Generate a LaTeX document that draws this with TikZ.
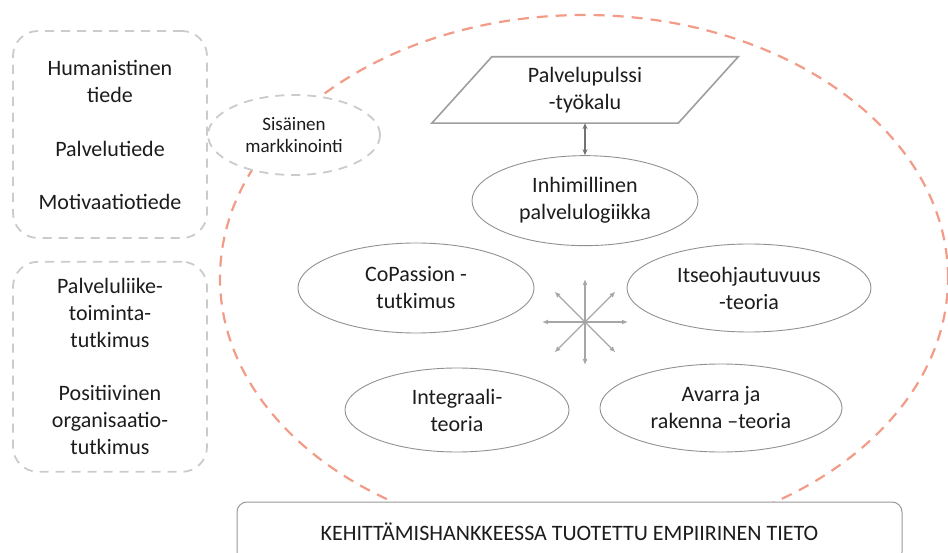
\documentclass[tikz,border=0pt]{standalone}
\usepackage{fontspec}
\setmainfont{Carlito}
\usepackage{tikz}
\usetikzlibrary{positioning,arrows.meta,calc,shapes.geometric}
\definecolor{salmon}{RGB}{242,155,135}
\definecolor{dashgray}{RGB}{203,203,203}
\definecolor{linegray}{RGB}{145,145,145}
\definecolor{txt}{RGB}{28,28,28}

\begin{document}
\begin{tikzpicture}[
    x=1pt, y=-1pt, >=Stealth, text=txt,
    font=\fontsize{22pt}{27pt}\selectfont,
    field/.style={draw=dashgray, line width=1.8pt, dash pattern=on 9pt off 7pt, rounded corners=25pt,
      align=center, inner sep=0pt, minimum width=194pt},
    teoria/.style={ellipse, draw=linegray, line width=0.9pt, align=center, inner sep=0pt},
    orbit/.style={draw=salmon, line width=2.2pt, dash pattern=on 11pt off 8pt},
    ray/.style={draw=black!35, line width=1.2pt, -{Latex[length=6pt,width=5pt]}}]
  \useasboundingbox (0,0) rectangle (948,553);
  \draw[orbit] (584,278) ellipse [x radius=364pt, y radius=263pt];
  \node[field, minimum height=207pt] (l1) at (110,134.5) {Humanistinen\\tiede\\[27pt]Palvelutiede\\[26pt]Motivaatiotiede};
  \node[field, minimum height=210pt, below=22pt of l1] (l2) {Palveluliike-\\toiminta-\\tutkimus\\[26pt]Positiivinen\\organisaatio-\\tutkimus};
  \node[ellipse, draw=dashgray, fill=white, line width=1.8pt, dash pattern=on 9pt off 7pt, align=center,
    inner sep=0pt, minimum width=172pt, minimum height=80pt, font=\fontsize{19pt}{22pt}\selectfont] (sm) at (294,135) {Sisäinen\\markkinointi};
  \node[align=center, inner sep=0pt, minimum width=246pt, minimum height=66pt] (pp) at (585,90) {Palvelupulssi\\-työkalu};
  \draw[draw=black!38, line width=1.6pt] ($(pp.north west)+(30,0)$) -- ($(pp.north east)+(30,0)$)
    -- ($(pp.south east)-(30,0)$) -- ($(pp.south west)-(30,0)$) -- cycle;
  \node[teoria, minimum width=226pt, minimum height=90pt, below=32pt of pp] (ip) {Inhimillinen\\palvelulogiikka};
  \node[teoria, minimum width=236pt, minimum height=90pt] (cp) at (416,288) {CoPassion -\\tutkimus};
  \node[teoria, minimum width=244pt, minimum height=88pt] (it) at (749,288) {Itseohjautuvuus\\-teoria};
  \node[teoria, minimum width=224pt, minimum height=84pt] (ig) at (457,410) {Integraali-\\teoria};
  \node[teoria, minimum width=242pt, minimum height=88pt] (ar) at (721,408) {Avarra ja\\rakenna –teoria};
  \coordinate (c) at (585,322);
  \node[draw=black!40, fill=white, line width=1pt, rounded corners=10pt, minimum width=665pt, minimum height=60pt] (kt) at (569.5,532) {KEHITTÄMISHANKKEESSA TUOTETTU EMPIIRINEN TIETO};
  \draw[<->, draw=black!55, line width=1.4pt, {Stealth[length=6pt,width=5pt]}-{Stealth[length=6pt,width=5pt]}] (pp) -- (ip);
  \foreach \a in {0,45,...,315}
    \draw[ray] (c) -- ++(\a:43);
\end{tikzpicture}
\end{document}
